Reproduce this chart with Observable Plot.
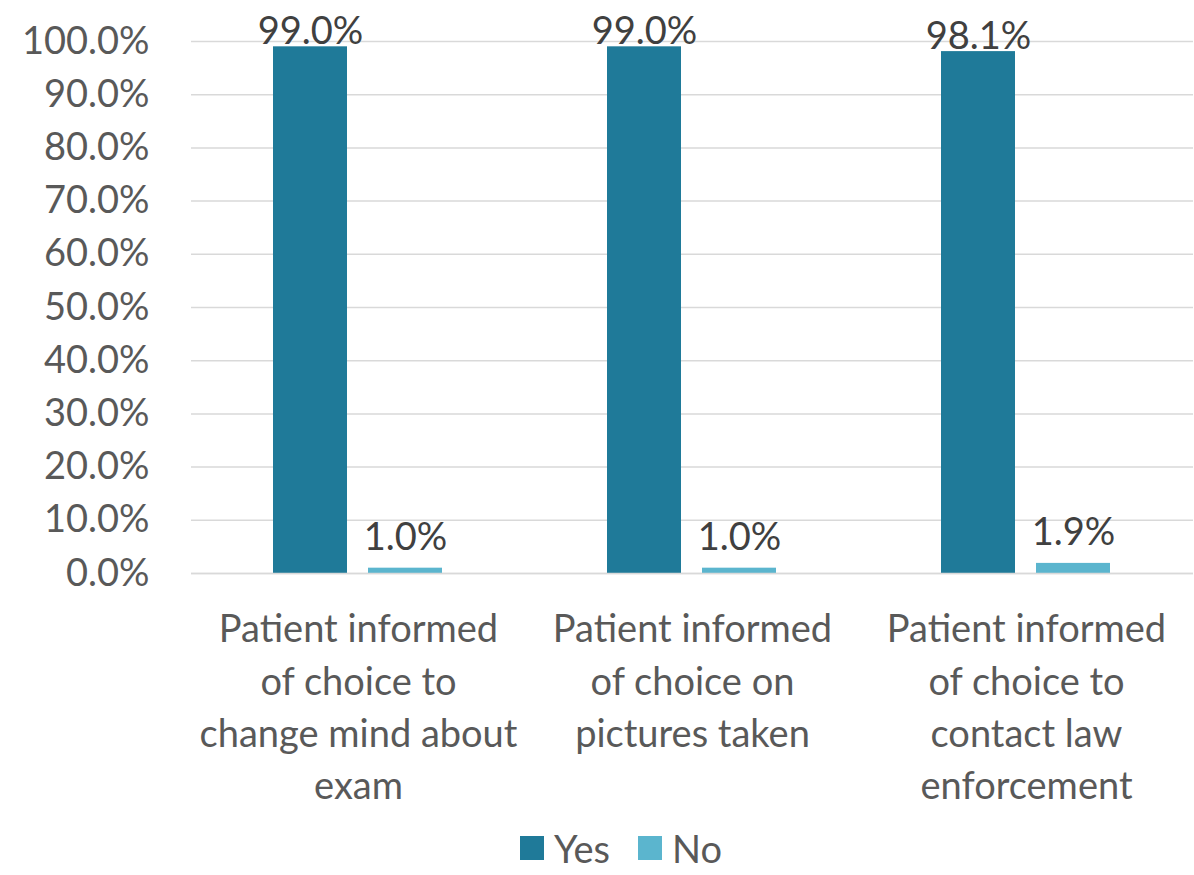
<!DOCTYPE html>
<html><head><meta charset="utf-8">
<script src="https://cdn.jsdelivr.net/npm/d3@7"></script>
<script src="https://cdn.jsdelivr.net/npm/@observablehq/plot@0.6"></script>
<style>
body{margin:0;background:#fff;font-family:Lato,"Open Sans",sans-serif;overflow:hidden;}
#legend{display:flex;justify-content:center;align-items:center;font-size:38px;line-height:46px;color:#595959;height:46px;margin-top:10px;padding-left:48px;}
#legend .item{display:flex;align-items:center;margin:0 14px;}
#legend .sw{width:24px;height:24px;margin-right:10px;}
</style></head>
<body>
<div id="chart"></div>
<div id="legend"></div>
<script>
const categories = [
  "Patient informed\nof choice to\nchange mind about\nexam",
  "Patient informed\nof choice on\npictures taken",
  "Patient informed\nof choice to\ncontact law\nenforcement"
];
const series = ["Yes", "No"];
const yesValues = [0.990, 0.990, 0.981];
const noValues = [0.010, 0.010, 0.019];
const colors = ["#1f7a99", "#5bb5ce"];
const yTicks = [0,0.1,0.2,0.3,0.4,0.5,0.6,0.7,0.8,0.9,1.0];

const data = [];
categories.forEach((c,i)=>{
  data.push({cat:c, s:"Yes", v:yesValues[i]});
  data.push({cat:c, s:"No", v:noValues[i]});
});
const fmt = d3.format(".1%");

const plot = Plot.plot({
  width: 1194,
  height: 815,
  marginTop: 41,
  marginBottom: 242,
  marginLeft: 190,
  marginRight: 0,
  style: {fontFamily: "Lato, 'Open Sans', sans-serif", background: "#fff"},
  fx: {domain: categories, padding: 0, label: null},
  x: {domain: series, paddingInner: 0.219, paddingOuter: 0.853, axis: null},
  y: {domain: [0, 1], label: null},
  color: {domain: series, range: colors},
  marks: [
    Plot.gridY(yTicks, {stroke: "#d9d9d9", strokeOpacity: 1, strokeWidth: 1.5}),
    Plot.axisY(yTicks, {tickSize: 0, tickPadding: 42, tickFormat: fmt, fontSize: 38, color: "#595959", label: null}),
    Plot.axisFx({anchor: "bottom", tickSize: 0, tickPadding: 32, fontSize: 38, lineHeight: 1.37, color: "#595959", label: null}),
    Plot.barY(data, {fx: "cat", x: "s", y: "v", fill: "s"}),
    Plot.ruleY([0], {stroke: "#d9d9d9", strokeWidth: 1.5}),
    Plot.text(data.filter(d => d.v > 0.9), {fx: "cat", x: "s", y: "v", text: d => fmt(d.v), lineAnchor: "bottom", dy: -3, fontSize: 38, fill: "#404040"}),
    Plot.text(data.filter(d => d.v <= 0.9), {fx: "cat", x: "s", y: "v", text: d => fmt(d.v), lineAnchor: "bottom", dy: -18, fontSize: 38, fill: "#404040"})
  ]
});
document.getElementById("chart").appendChild(plot);

const lg = document.getElementById("legend");
series.forEach((s,i)=>{
  const it = document.createElement("div"); it.className="item";
  const sw = document.createElement("div"); sw.className="sw"; sw.style.background = colors[i];
  const t = document.createElement("span"); t.textContent = s;
  it.appendChild(sw); it.appendChild(t); lg.appendChild(it);
});
</script>
</body></html>
